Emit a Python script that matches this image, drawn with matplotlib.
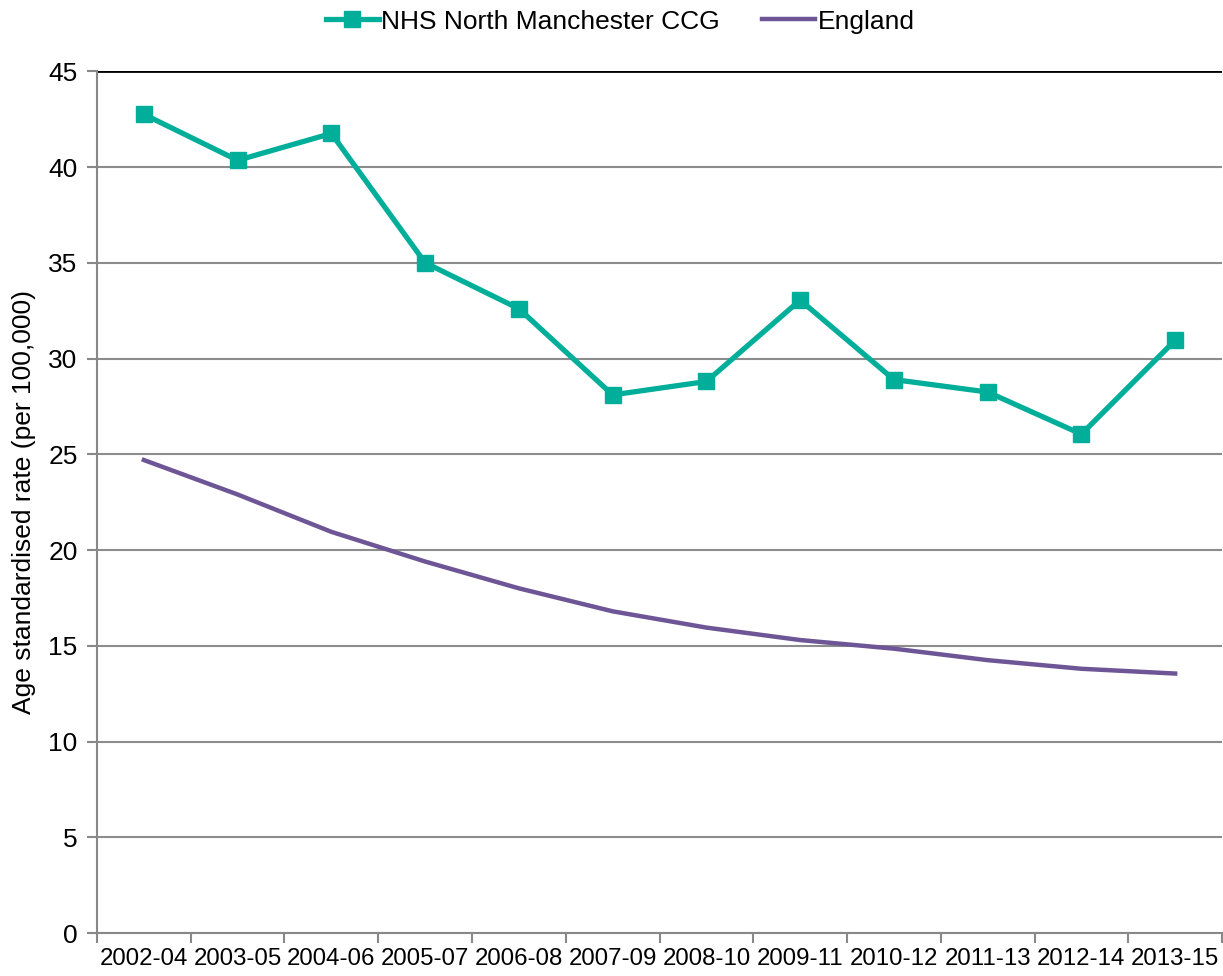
import numpy as np
import matplotlib.pyplot as plt

plt.rcParams['font.family'] = ['Liberation Sans', 'DejaVu Sans']

periods = ['2002-04', '2003-05', '2004-06', '2005-07', '2006-08', '2007-09',
           '2008-10', '2009-11', '2010-12', '2011-13', '2012-14', '2013-15']
north_manchester = [42.75, 40.35, 41.75, 35.0, 32.6, 28.1,
                    28.8, 33.05, 28.9, 28.25, 26.05, 30.95]
england = [24.7, 22.9, 20.95, 19.4, 18.0, 16.8,
           15.95, 15.3, 14.85, 14.25, 13.8, 13.55]

fig = plt.figure(figsize=(12.23, 9.76), dpi=100)
ax = fig.add_axes([0.0793, 0.044, 0.9199, 0.883])

x = np.arange(len(periods))
ax.plot(x, north_manchester, color='#00AE9A', lw=3.8, marker='s', ms=11,
        label='NHS North Manchester CCG', zorder=3)
ax.plot(x, england, color='#6E5596', lw=3.2, label='England', zorder=3)

ax.set_xlim(-0.5, len(periods) - 0.5)
ax.set_ylim(0, 45)
ax.set_yticks(range(0, 46, 5))
ax.set_xticks(x)
ax.set_xticklabels(periods, fontsize=17.3)
ax.tick_params(axis='x', length=0, pad=11)
ax.set_xticks(np.arange(-0.5, len(periods)), minor=True)
ax.tick_params(axis='x', which='minor', length=7, color='#888888', width=1.5)
ax.tick_params(axis='y', labelsize=19, length=7, color='#888888', width=1.5, pad=7)

ax.grid(axis='y', color='#8c8c8c', lw=1.5, zorder=0)
ax.axhline(45, color='black', lw=2, zorder=2)
for s in ['top', 'right']:
    ax.spines[s].set_visible(False)
for s in ['left', 'bottom']:
    ax.spines[s].set_color('#888888')
    ax.spines[s].set_linewidth(1.5)

ax.set_ylabel('Age standardised rate (per 100,000)', fontsize=19, labelpad=9)

ax.legend(loc='upper center', bbox_to_anchor=(0.465, 1.099), ncol=2, frameon=False,
          fontsize=19, handlelength=2.0, handletextpad=0.1, columnspacing=1.6)

fig.savefig('out.png', dpi=100)
